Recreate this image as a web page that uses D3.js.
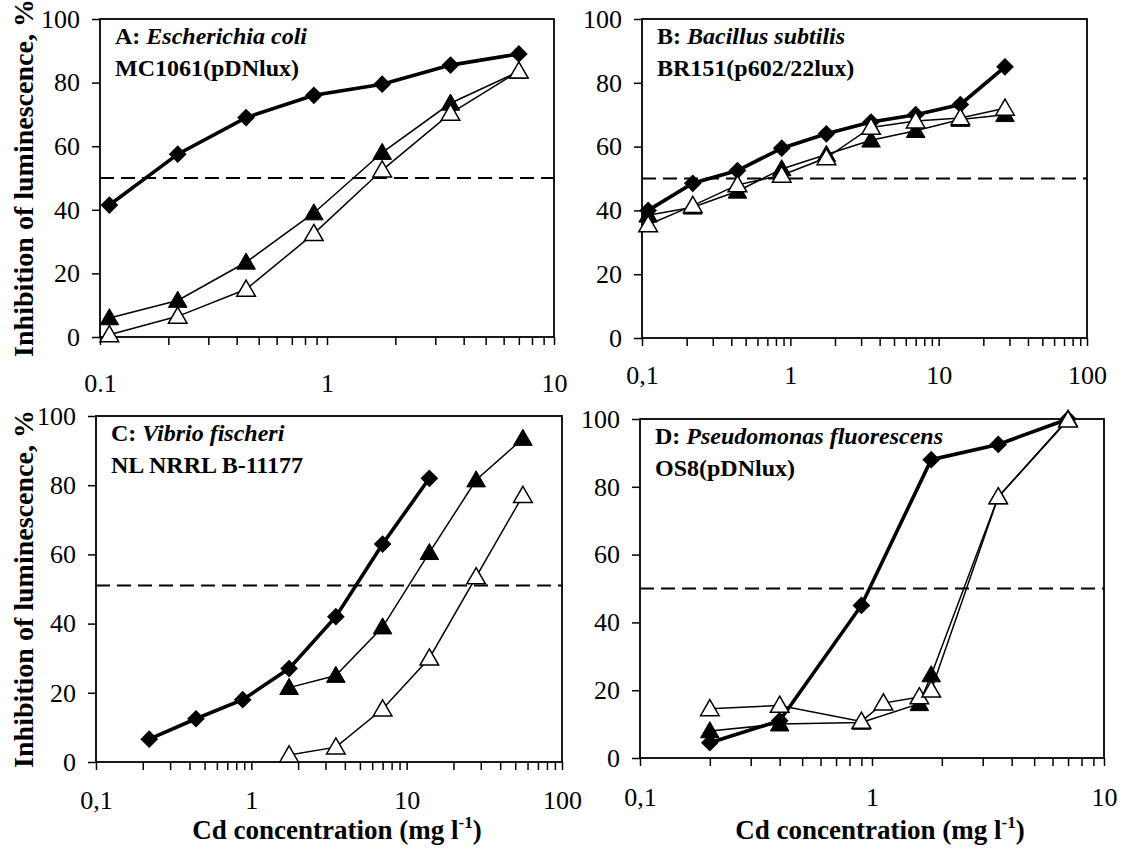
<!DOCTYPE html>
<html>
<head>
<meta charset="utf-8">
<script src="https://cdn.jsdelivr.net/npm/d3@7/dist/d3.min.js"></script>
<style>
  body { margin: 0; background: #fff; }
  svg { display: block; }
  text { font-family: "Liberation Serif", "Times New Roman", serif; fill: #000; }
</style>
</head>
<body>
<div id="chart"></div>
<script>
// ---- data ----
// A: Escherichia coli MC1061(pDNlux)
const aX = [0.11, 0.22, 0.44, 0.875, 1.75, 3.5, 7];
const aDiamond = [41.5, 57.5, 69, 76, 79.5, 85.5, 89];
const aFilled = [6, 11.5, 23.5, 39, 58, 73.5, 83.5];
const aOpen = [0.7, 6.5, 15, 32.5, 52.5, 70.3, 83.6];

// B: Bacillus subtilis BR151(p602/22lux)
const bX = [0.11, 0.22, 0.44, 0.875, 1.75, 3.5, 7, 14, 28];
const bDiamond = [40, 48.5, 52.5, 59.5, 64, 67.7, 70, 73.2, 85];
const bFilled = [38.5, 41, 46, 53, 57.5, 62, 65, 68.5, 70];
const bOpen = [35.5, 41.5, 48, 51, 56.5, 66, 68, 69, 72];

// C: Vibrio fischeri NL NRRL B-11177
const cXDiamond = [0.22, 0.44, 0.88, 1.75, 3.5, 7, 14];
const cDiamond = [6.6, 12.5, 18, 27, 42, 63, 82];
const cXTri = [1.75, 3.5, 7, 14, 28, 56];
const cFilled = [21.5, 25, 39, 60.5, 81.5, 93.5];
const cOpen = [2, 4.3, 15.3, 30, 53.5, 77];

// D: Pseudomonas fluorescens OS8(pDNlux)
const dXDiamond = [0.2, 0.4, 0.9, 1.8, 3.5, 7];
const dDiamond = [4.5, 11, 45, 88, 92.5, 100];
const dXFilled = [0.2, 0.4, 0.9, 1.6, 1.8, 3.5, 7];
const dFilled = [8, 10, 10.5, 16, 24.5, 77, 100];
const dXOpen = [0.2, 0.4, 0.9, 1.12, 1.6, 1.8, 3.5, 7];
const dOpen = [14.5, 15.5, 10.8, 16.2, 18, 20, 77, 99.7];

const yTicks = [0, 20, 40, 60, 80, 100];
const xTicksShort = [0.1, 1, 10];
const xTicksLong = [0.1, 1, 10, 100];
const xLabelsDot = ["0.1", "1", "10"];
const xLabelsComma = ["0,1", "1", "10", "100"];

const zip = (xs, ys) => xs.map((x, i) => ({ x: x, y: ys[i] }));

// panel layout (pixel boxes)
const panels = [
    { id: "A", species: "Escherichia coli", strain: "MC1061(pDNlux)",
      box: { left: 100, right: 554, top: 19, bottom: 337 }, xMax: 10,
      ticks: xTicksShort, labels: xLabelsDot, labelPad: 29, cut: 50,
      diamond: zip(aX, aDiamond), filled: zip(aX, aFilled), open: zip(aX, aOpen),
      yTitle: true, xTitle: false },
    { id: "B", species: "Bacillus subtilis", strain: "BR151(p602/22lux)",
      box: { left: 642, right: 1087, top: 19, bottom: 338 }, xMax: 100,
      ticks: xTicksLong, labels: xLabelsComma, labelPad: 20, cut: 50,
      diamond: zip(bX, bDiamond), filled: zip(bX, bFilled), open: zip(bX, bOpen),
      yTitle: false, xTitle: false },
    { id: "C", species: "Vibrio fischeri", strain: "NL NRRL B-11177",
      box: { left: 96, right: 562, top: 416, bottom: 762 }, xMax: 100,
      ticks: xTicksLong, labels: xLabelsComma, labelPad: 21, cut: 51,
      diamond: zip(cXDiamond, cDiamond), filled: zip(cXTri, cFilled), open: zip(cXTri, cOpen),
      yTitle: true, xTitle: true },
    { id: "D", species: "Pseudomonas fluorescens", strain: "OS8(pDNlux)",
      box: { left: 640, right: 1104, top: 419, bottom: 758 }, xMax: 10,
      ticks: xTicksShort, labels: xLabelsComma, labelPad: 22, cut: 50,
      diamond: zip(dXDiamond, dDiamond), filled: zip(dXFilled, dFilled), open: zip(dXOpen, dOpen),
      yTitle: false, xTitle: true }
];

const W = 1128, H = 859;
const svg = d3.select("#chart").append("svg")
    .attr("width", W)
    .attr("height", H);

const diamondSym = d3.symbol().type(d3.symbolDiamond2).size(200);
const triangleSym = d3.symbol().type(d3.symbolTriangle).size(150);

function drawPanel(p) {
    const b = p.box;
    const x = d3.scaleLog().domain([0.1, p.xMax]).range([b.left, b.right]);
    const y = d3.scaleLinear().domain([0, 100]).range([b.bottom, b.top]);

    // minor + major ticks on the log axis
    let allTicks = [];
    for (let dec = 0.1; dec < p.xMax; dec *= 10) {
        for (let k = 1; k < 10; k++) allTicks.push(+(dec * k).toPrecision(3));
    }
    allTicks.push(p.xMax);

    const g = svg.append("g");

    const xAxis = d3.axisBottom(x)
        .tickValues(allTicks)
        .tickSize(8)
        .tickPadding(p.labelPad)
        .tickFormat(d => {
            const i = p.ticks.findIndex(t => Math.abs(t - d) < 1e-9);
            return i >= 0 ? p.labels[i] : "";
        });
    const gx = g.append("g")
        .attr("transform", "translate(0," + b.bottom + ")")
        .call(xAxis);
    gx.select(".domain").remove();
    gx.selectAll("line").attr("stroke", "#000").attr("stroke-width", 1.5);
    gx.selectAll("text")
        .attr("font-family", "Liberation Serif, Times New Roman, serif")
        .style("font-size", "26px");

    const yAxis = d3.axisLeft(y)
        .tickValues(yTicks)
        .tickSize(8)
        .tickPadding(12);
    const gy = g.append("g")
        .attr("transform", "translate(" + b.left + ",0)")
        .call(yAxis);
    gy.select(".domain").remove();
    gy.selectAll("line").attr("stroke", "#000").attr("stroke-width", 1.5);
    gy.selectAll("text")
        .attr("font-family", "Liberation Serif, Times New Roman, serif")
        .style("font-size", "26px");

    // frame
    g.append("rect")
        .attr("x", b.left).attr("y", b.top)
        .attr("width", b.right - b.left).attr("height", b.bottom - b.top)
        .attr("fill", "none").attr("stroke", "#000").attr("stroke-width", 1.8);

    // 50 % dashed line
    g.append("line")
        .attr("x1", b.left).attr("x2", b.right)
        .attr("y1", y(p.cut)).attr("y2", y(p.cut))
        .attr("stroke", "#000").attr("stroke-width", 2)
        .attr("stroke-dasharray", "14,7");

    const line = d3.line().x(d => x(d.x)).y(d => y(d.y));

    // filled triangles
    g.append("path").datum(p.filled)
        .attr("d", line).attr("fill", "none")
        .attr("stroke", "#000").attr("stroke-width", 1.5);
    g.selectAll(".filled").data(p.filled).enter().append("path")
        .attr("class", "filled")
        .attr("transform", d => "translate(" + x(d.x) + "," + (y(d.y) + 1.5) + ")")
        .attr("d", triangleSym)
        .attr("fill", "#000").attr("stroke", "#000").attr("stroke-width", 1);

    // diamonds, thick line
    g.append("path").datum(p.diamond)
        .attr("d", line).attr("fill", "none")
        .attr("stroke", "#000").attr("stroke-width", 3.6);
    g.selectAll(".diamond").data(p.diamond).enter().append("path")
        .attr("class", "diamond")
        .attr("transform", d => "translate(" + x(d.x) + "," + y(d.y) + ")")
        .attr("d", diamondSym)
        .attr("fill", "#000");

    // open triangles
    g.append("path").datum(p.open)
        .attr("d", line).attr("fill", "none")
        .attr("stroke", "#000").attr("stroke-width", 1.5);
    g.selectAll(".open").data(p.open).enter().append("path")
        .attr("class", "open")
        .attr("transform", d => "translate(" + x(d.x) + "," + (y(d.y) + 1.5) + ")")
        .attr("d", triangleSym)
        .attr("fill", "#fff").attr("stroke", "#000").attr("stroke-width", 1.5);

    // strain label in the corner
    const t1 = g.append("text")
        .attr("x", b.left + 15).attr("y", b.top + 25)
        .style("font-size", "24px").style("font-weight", "bold");
    t1.append("tspan").text(p.id + ": ");
    t1.append("tspan").style("font-style", "italic").text(p.species);
    g.append("text")
        .attr("x", b.left + 15).attr("y", b.top + 57)
        .style("font-size", "24px").style("font-weight", "bold")
        .text(p.strain);

    if (p.yTitle) {
        g.append("text")
            .attr("transform", "translate(33," + ((b.top + b.bottom) / 2) + ") rotate(-90)")
            .attr("text-anchor", "middle")
            .style("font-size", "28px").style("font-weight", "bold")
            .text("Inhibition of luminescence, %");
    }
    if (p.xTitle) {
        const tx = g.append("text")
            .attr("x", (b.left + b.right) / 2 + 8).attr("y", 839)
            .attr("text-anchor", "middle")
            .style("font-size", "27px").style("font-weight", "bold");
        tx.append("tspan").text("Cd concentration (mg l");
        tx.append("tspan").attr("dy", -11).style("font-size", "17px").text("-1");
        tx.append("tspan").attr("dy", 11).text(")");
    }
}

panels.forEach(drawPanel);
</script>
</body>
</html>
